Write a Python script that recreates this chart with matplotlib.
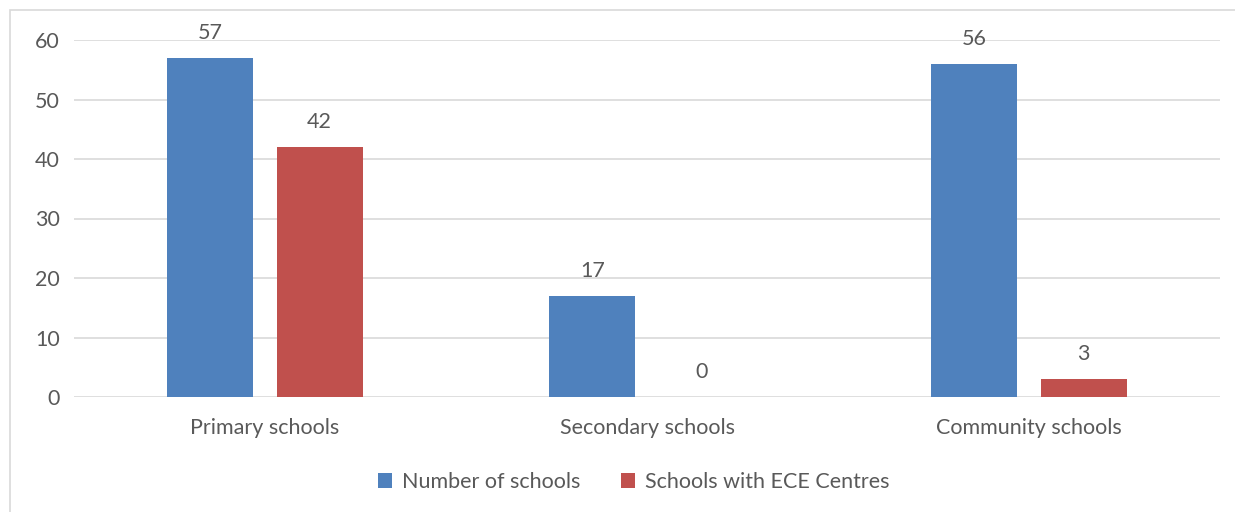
import numpy as np
import matplotlib.pyplot as plt
from matplotlib.patches import Rectangle

categories = ['Primary schools', 'Secondary schools', 'Community schools']
number_of_schools = [57, 17, 56]
schools_with_ece = [42, 0, 3]
series_names = ['Number of schools', 'Schools with ECE Centres']

blue = '#4F81BD'
red = '#C0504D'
text_color = '#595959'
grid_color = '#D9D9D9'

plt.rcParams['font.family'] = ['Lato', 'DejaVu Sans']
fs = 15.5

fig = plt.figure(figsize=(12.35, 5.12), dpi=100)
ax = fig.add_axes([74 / 1235, 1 - 397 / 512, 1146 / 1235, 357 / 512])

# chart border
fig.patches.append(Rectangle((10 / 1235, -0.05), 1.1, 1 - 10 / 512 + 0.05,
                             transform=fig.transFigure, fill=False,
                             edgecolor=grid_color, linewidth=1.2))

x = np.arange(len(categories))
width = 0.225
offset = 0.143
b1 = ax.bar(x - offset, number_of_schools, width, color=blue, label=series_names[0], zorder=3)
b2 = ax.bar(x + offset, schools_with_ece, width, color=red, label=series_names[1], zorder=3)

for bars in (b1, b2):
    for rect in bars:
        h = rect.get_height()
        ax.annotate(f'{h:g}', (rect.get_x() + rect.get_width() / 2, h),
                    xytext=(0, 11), textcoords='offset points',
                    ha='center', va='bottom', fontsize=fs, color=text_color,
                    annotation_clip=False)

ax.set_xlim(-0.5, len(categories) - 0.5)
ax.set_ylim(0, 60)
ax.set_yticks(range(0, 61, 10))
ax.set_xticks(x)
ax.set_xticklabels(categories)
ax.tick_params(axis='both', length=0, labelsize=fs, labelcolor=text_color)
ax.tick_params(axis='y', pad=10)
ax.tick_params(axis='x', pad=15)
ax.yaxis.grid(True, color=grid_color, linewidth=1.2, zorder=0)
for s in ax.spines.values():
    s.set_visible(False)

fig.legend(loc='center', bbox_to_anchor=(634 / 1235, 1 - 482 / 512), ncol=2,
           frameon=False, fontsize=fs, labelcolor=text_color,
           handlelength=0.65, handleheight=0.65, handletextpad=0.45, columnspacing=1.9)

fig.savefig('out.png', dpi=100)
